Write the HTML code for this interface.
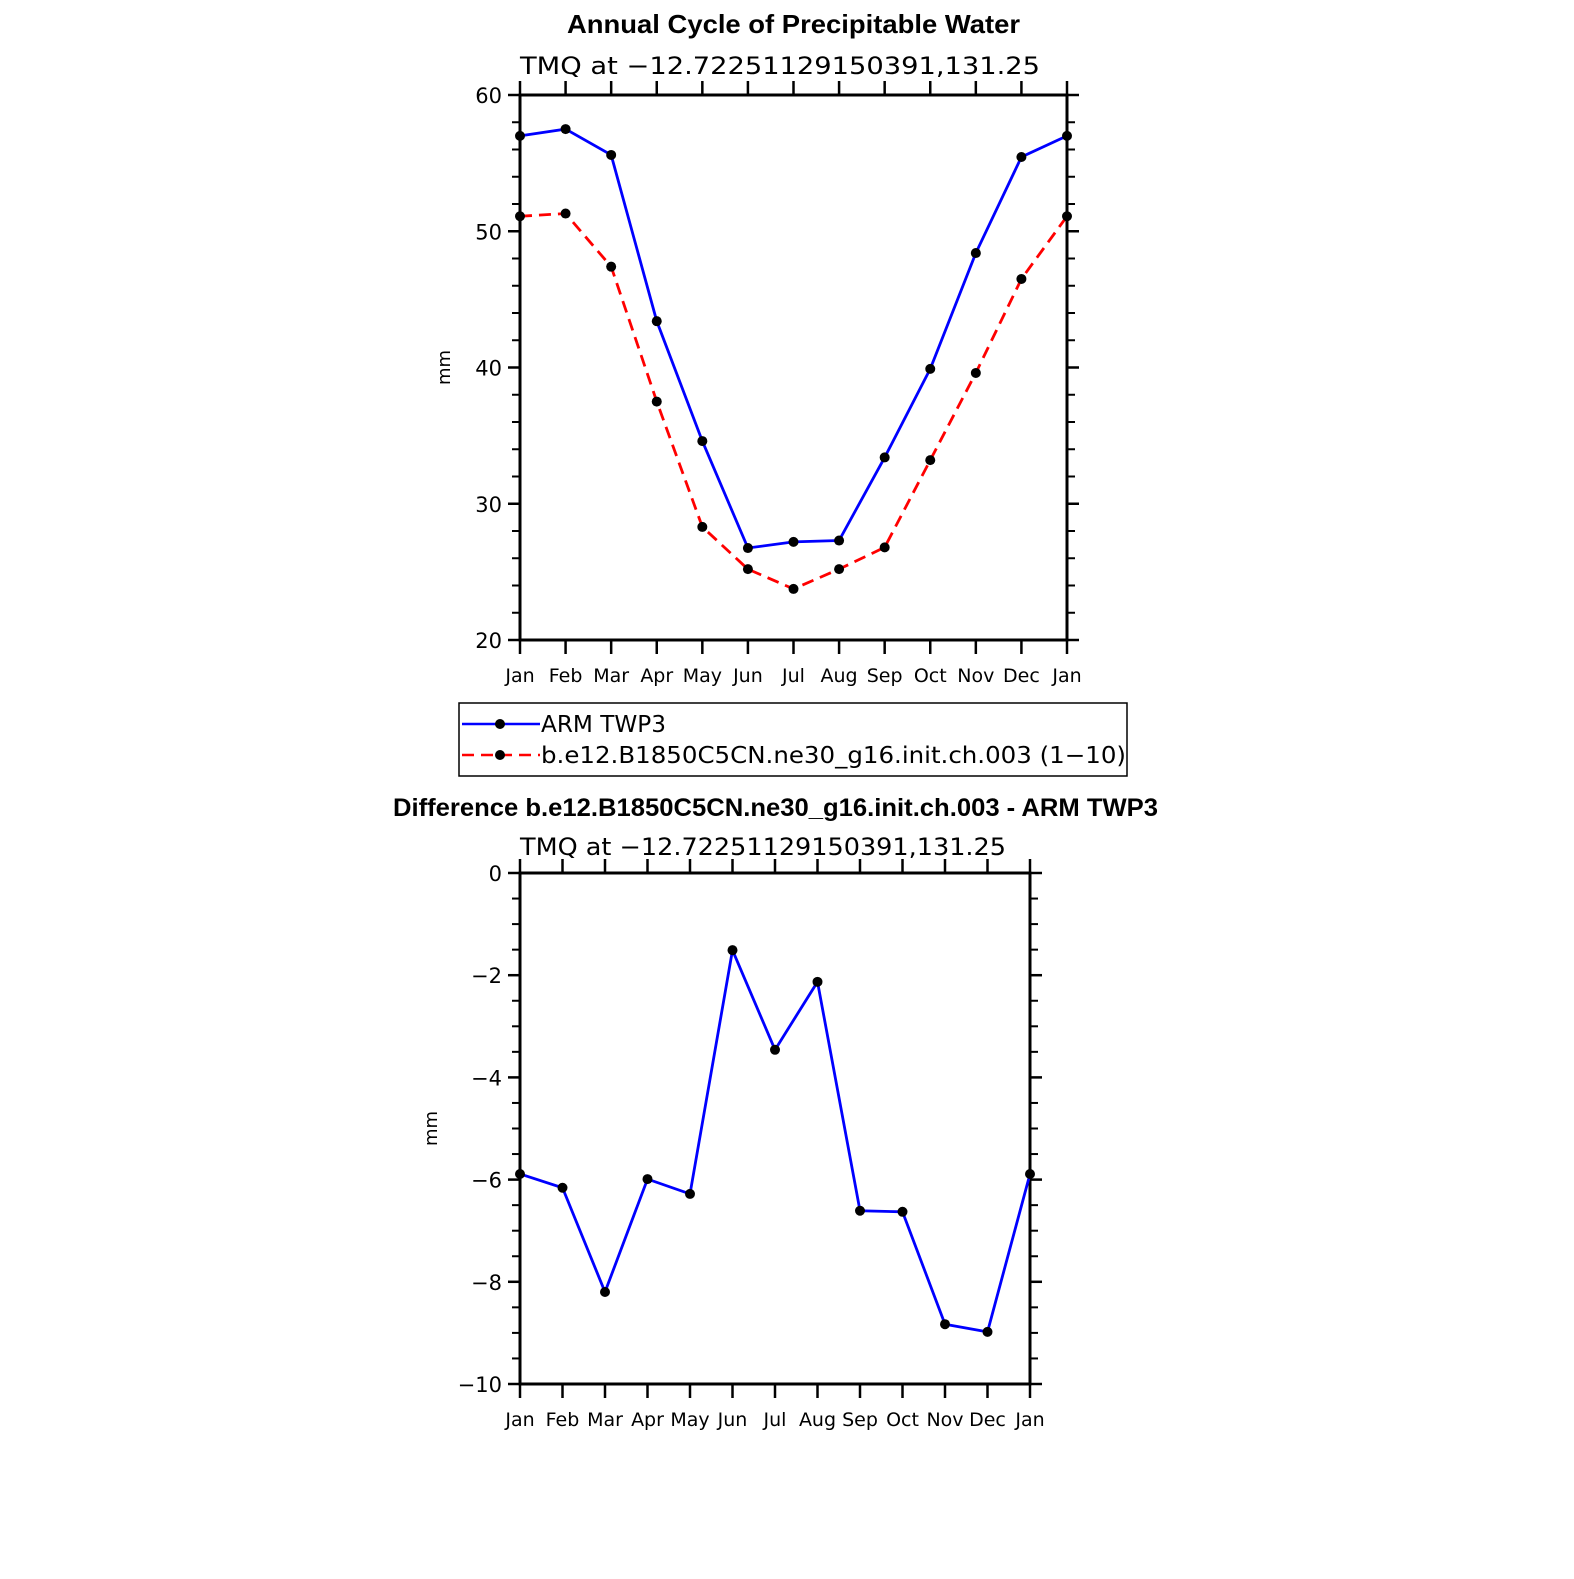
<!DOCTYPE html>
<html><head><meta charset="utf-8"><style>
body{margin:0;background:#fff}
svg text{font-family:"Liberation Sans",sans-serif}
svg text.t{font-family:"DejaVu Sans","Liberation Sans",sans-serif}
</style></head><body>
<svg id="c" width="1574" height="1574" xmlns="http://www.w3.org/2000/svg">
<text x="567" y="33" textLength="453" lengthAdjust="spacingAndGlyphs" font-size="26" font-weight="bold">Annual Cycle of Precipitable Water</text>
<text class="t" x="520" y="74" textLength="520" lengthAdjust="spacingAndGlyphs" font-size="24">TMQ  at  −12.72251129150391,131.25</text>
<text x="393" y="816" textLength="765" lengthAdjust="spacingAndGlyphs" font-size="25" font-weight="bold">Difference b.e12.B1850C5CN.ne30_g16.init.ch.003 - ARM TWP3</text>
<text class="t" x="520" y="855" textLength="486" lengthAdjust="spacingAndGlyphs" font-size="24">TMQ  at  −12.72251129150391,131.25</text>
<g>
<rect x="459" y="703" width="668" height="73" fill="none" stroke="#000" stroke-width="1.5"/>
<g><line x1="462" y1="724" x2="540" y2="724" stroke="#00f" stroke-width="2.5"/><circle cx="500" cy="724" r="5"/><text class="t" x="541" y="732" textLength="125" lengthAdjust="spacingAndGlyphs" font-size="23">ARM  TWP3</text></g>
<g><line x1="462" y1="755" x2="540" y2="755" stroke="#f00" stroke-width="2.5" stroke-dasharray="12,7"/><circle cx="500" cy="755" r="5"/><text class="t" x="541" y="763" textLength="585" lengthAdjust="spacingAndGlyphs" font-size="23">b.e12.B1850C5CN.ne30_g16.init.ch.003  (1−10)</text></g>
</g>
</svg>
<script>
const months=["Jan","Feb","Mar","Apr","May","Jun","Jul","Aug","Sep","Oct","Nov","Dec","Jan"];
const armTWP3=[57.0,57.5,55.6,43.4,34.6,26.75,27.2,27.3,33.4,39.9,48.4,55.45,57.0];
const modelTMQ=[51.1,51.3,47.4,37.5,28.3,25.2,23.75,25.2,26.8,33.2,39.6,46.5,51.1];
const diffVals=[-5.89,-6.16,-8.2,-5.99,-6.28,-1.51,-3.46,-2.13,-6.61,-6.63,-8.83,-8.98,-5.89];
const topTicks=[20,30,40,50,60];
const botTicks=[0,-2,-4,-6,-8,-10];
const NS="http://www.w3.org/2000/svg";
const svg=document.getElementById('c');
function mk(t,a,p){const e=document.createElementNS(NS,t);for(const k in a)e.setAttribute(k,a[k]);(p||svg).appendChild(e);return e;}
function panel(o){
  const g=mk('g',{});
  
  
  const x=i=>o.x0+(o.x1-o.x0)*i/12;
  const y=v=>o.y1+(v-o.vmin)*(o.y0-o.y1)/(o.vmax-o.vmin);
  mk('rect',{x:o.x0,y:o.y0,width:o.x1-o.x0,height:o.y1-o.y0,fill:'none',stroke:'#000','stroke-width':3},g);
  for(let v=o.vmin;v<=o.vmax+1e-9;v+=o.minor){
    const isMaj=Math.abs(Math.round(v/o.major)*o.major-v)<1e-6;
    const L=isMaj?12:8;const yy=y(v);
    mk('line',{x1:o.x0-L,y1:yy,x2:o.x0,y2:yy,stroke:'#000','stroke-width':isMaj?2.5:2},g);
    mk('line',{x1:o.x1,y1:yy,x2:o.x1+L,y2:yy,stroke:'#000','stroke-width':isMaj?2.5:2},g);
  }
  o.ticks.forEach(v=>{const t=mk('text',{x:o.x0-18,y:y(v)+8,'text-anchor':'end','font-size':21,'class':'t'},g);t.textContent=String(v).replace('-','−');
    
    });
  months.forEach((m,i)=>{const xx=x(i);
    mk('line',{x1:xx,y1:o.y0-14,x2:xx,y2:o.y0,stroke:'#000','stroke-width':2.5},g);
    mk('line',{x1:xx,y1:o.y1,x2:xx,y2:o.y1+14,stroke:'#000','stroke-width':2.5},g);
    const t=mk('text',{x:xx,y:o.y1+42,'text-anchor':'middle','font-size':19,'class':'t'},g);t.textContent=m;
    
    });
  const yl=mk('text',{x:0,y:0,'text-anchor':'middle','font-size':18,'class':'t',transform:`translate(${o.ylx},${(o.y0+o.y1)/2}) rotate(-90)`},g);yl.textContent='mm';
  
  
  o.series.forEach(s=>{
    const pl=mk('polyline',{points:s.vals.map((v,i)=>x(i)+','+y(v)).join(' '),fill:'none',stroke:s.color,'stroke-width':2.8,'stroke-dasharray':s.dash||'none'},g);
    
    
    s.vals.forEach((v,i)=>{const c=mk('circle',{cx:x(i),cy:y(v),r:5},g);
      
      });
  });
}
panel({name:'top-panel',x0:520,x1:1067,y0:95,y1:640,vmin:20,vmax:60,major:10,minor:2,ticks:topTicks,ylx:450,
  series:[{name:'arm-twp3',vals:armTWP3,color:'#00f'},{name:'model',vals:modelTMQ,color:'#f00',dash:'12,7'}]});
panel({name:'bottom-panel',x0:520,x1:1030,y0:873,y1:1384,vmin:-10,vmax:0,major:2,minor:0.5,ticks:botTicks,ylx:437,
  series:[{name:'difference',vals:diffVals,color:'#00f'}]});
</script>
</body></html>
